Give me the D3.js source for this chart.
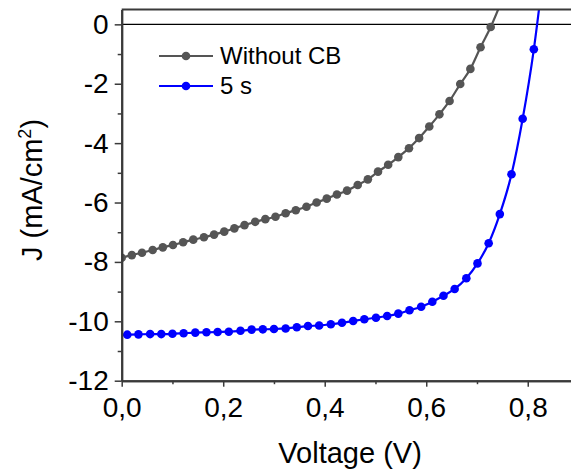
<!DOCTYPE html>
<html>
<head>
<meta charset="utf-8">
<script src="https://cdn.jsdelivr.net/npm/d3@7"></script>
<style>
  html, body { margin: 0; padding: 0; background: #fff; }
  svg { display: block; font-family: "Liberation Sans", Arial, sans-serif; }
</style>
</head>
<body>
<svg id="chart" width="571" height="470"></svg>
<script>
// ---- data ----
const seriesNames = ["Without CB", "5 s"];
const seriesColors = ["#555555", "#0000ff"];

const voltageWithoutCB = [0.000, 0.020, 0.040, 0.061, 0.081, 0.101, 0.121, 0.141, 0.162, 0.182,
  0.202, 0.222, 0.242, 0.263, 0.283, 0.303, 0.323, 0.343, 0.364, 0.384,
  0.404, 0.424, 0.444, 0.465, 0.485, 0.505, 0.525, 0.545, 0.566, 0.586,
  0.606, 0.626, 0.646, 0.667, 0.687, 0.707, 0.727, 0.747];
const currentWithoutCB = [-7.86, -7.77, -7.69, -7.60, -7.51, -7.43, -7.34, -7.25, -7.17, -7.08,
  -6.98, -6.87, -6.76, -6.65, -6.56, -6.48, -6.36, -6.26, -6.14, -6.00,
  -5.87, -5.73, -5.60, -5.41, -5.22, -4.96, -4.73, -4.47, -4.17, -3.83,
  -3.44, -3.03, -2.58, -2.01, -1.50, -0.77, -0.09, 0.72];

const voltage5s = [-0.011, 0.011, 0.033, 0.056, 0.078, 0.100, 0.122, 0.145, 0.167, 0.189,
  0.211, 0.234, 0.256, 0.278, 0.300, 0.323, 0.345, 0.367, 0.389, 0.412,
  0.434, 0.456, 0.478, 0.501, 0.523, 0.545, 0.567, 0.590, 0.612, 0.634,
  0.656, 0.679, 0.701, 0.723, 0.745, 0.768, 0.790, 0.812, 0.834];
const current5s = [-10.46, -10.45, -10.44, -10.43, -10.43, -10.42, -10.40, -10.38, -10.37, -10.36,
  -10.35, -10.32, -10.28, -10.27, -10.26, -10.24, -10.20, -10.16, -10.14, -10.10,
  -10.05, -9.99, -9.93, -9.88, -9.82, -9.74, -9.63, -9.51, -9.34, -9.14,
  -8.91, -8.55, -8.05, -7.37, -6.39, -5.05, -3.18, -0.84, 2.2];

const yMajorTicks = [-12, -10, -8, -6, -4, -2, 0];
const yMinorTicks = [-11, -9, -7, -5, -3, -1];
const xMajorTicks = [0.0, 0.2, 0.4, 0.6, 0.8];
const xMinorTicks = [0.1, 0.3, 0.5, 0.7];

const xTitle = "Voltage (V)";

// ---- layout ----
const svg = d3.select("#chart");
const pLeft = 121.7, pRight = 578.5, pTop = 9.5, pBottom = 380.7;

const x = d3.scaleLinear().domain([0, 0.9]).range([pLeft, pRight]);
const y = d3.scaleLinear().domain([-12, 0.5]).range([pBottom, pTop]);

svg.append("defs").append("clipPath").attr("id", "plotclip")
  .append("rect").attr("x", pLeft).attr("y", pTop).attr("width", pRight - pLeft).attr("height", pBottom - pTop);

// zero line
svg.append("line")
  .attr("x1", pLeft).attr("x2", pRight)
  .attr("y1", y(0)).attr("y2", y(0))
  .attr("stroke", "#000").attr("stroke-width", 1.2);

// series
const series = [
  { name: seriesNames[0], color: seriesColors[0], v: voltageWithoutCB, j: currentWithoutCB },
  { name: seriesNames[1], color: seriesColors[1], v: voltage5s, j: current5s }
];

const line = d3.line().x(d => x(d[0])).y(d => y(d[1])).curve(d3.curveMonotoneX);
const plot = svg.append("g").attr("clip-path", "url(#plotclip)");

series.forEach(s => {
  const pts = s.v.map((v, i) => [v, s.j[i]]);
  plot.append("path").datum(pts)
    .attr("d", line)
    .attr("fill", "none")
    .attr("stroke", s.color)
    .attr("stroke-width", 2.2);
  plot.selectAll(null).data(pts).enter().append("circle")
    .attr("cx", d => x(d[0])).attr("cy", d => y(d[1]))
    .attr("r", 4.3)
    .attr("fill", s.color);
});

// axes
const axisColor = "#3a3a3a";
const fmtX = d => d3.format(".1f")(d).replace(".", ",");
const fmtY = d => String(d);

const gy = svg.append("g").attr("transform", `translate(${pLeft},0)`)
  .call(d3.axisLeft(y).tickValues(yMajorTicks).tickFormat(fmtY).tickSize(7).tickSizeOuter(0).tickPadding(6));
const gyMinor = svg.append("g").attr("transform", `translate(${pLeft},0)`)
  .call(d3.axisLeft(y).tickValues(yMinorTicks).tickFormat("").tickSize(4).tickSizeOuter(0));
const gx = svg.append("g").attr("transform", `translate(0,${pBottom})`)
  .call(d3.axisBottom(x).tickValues(xMajorTicks).tickFormat(fmtX).tickSize(6).tickSizeOuter(0).tickPadding(10));
const gxMinor = svg.append("g").attr("transform", `translate(0,${pBottom})`)
  .call(d3.axisBottom(x).tickValues(xMinorTicks).tickFormat("").tickSize(3.5).tickSizeOuter(0));

[gy, gyMinor, gx, gxMinor].forEach(g => {
  g.selectAll(".domain").attr("stroke", axisColor).attr("stroke-width", 2);
  g.selectAll(".tick line").attr("stroke", axisColor).attr("stroke-width", 1.5);
  g.selectAll("text").attr("fill", "#000").attr("font-family", "'Liberation Sans', Arial, sans-serif");
});
gy.selectAll("text").attr("font-size", 28);
gx.selectAll("text").attr("font-size", 28);

// top border
svg.append("line")
  .attr("x1", pLeft).attr("x2", pRight)
  .attr("y1", pTop).attr("y2", pTop)
  .attr("stroke", axisColor).attr("stroke-width", 2);

// axis titles
svg.append("text")
  .attr("x", (pLeft + pRight) / 2).attr("y", 463)
  .attr("text-anchor", "middle")
  .attr("font-size", 29)
  .text(xTitle);

const yt = svg.append("text")
  .attr("transform", `translate(42,190) rotate(-90)`)
  .attr("text-anchor", "middle")
  .attr("font-size", 29);
yt.append("tspan").text("J (mA/cm");
yt.append("tspan").attr("font-size", 18).attr("dy", -11).text("2");
yt.append("tspan").attr("dy", 11).text(")");

// legend
const legend = svg.append("g");
series.forEach((s, i) => {
  const ly = 56 + i * 30;
  legend.append("line").attr("x1", 159).attr("x2", 213).attr("y1", ly).attr("y2", ly)
    .attr("stroke", s.color).attr("stroke-width", 2.2);
  legend.append("circle").attr("cx", 186).attr("cy", ly).attr("r", 4.3).attr("fill", s.color);
  legend.append("text").attr("x", 220).attr("y", ly).attr("dy", "0.35em")
    .attr("font-size", 24).text(s.name);
});
</script>
</body>
</html>
